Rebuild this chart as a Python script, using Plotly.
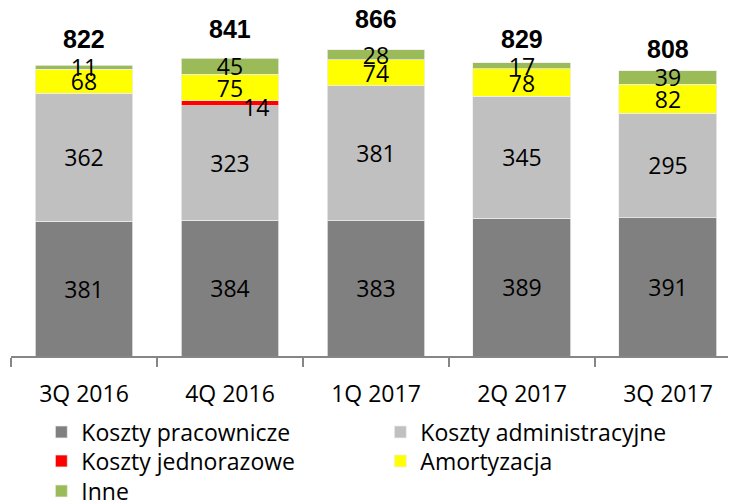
import plotly.graph_objects as go

categories = ["3Q 2016", "4Q 2016", "1Q 2017", "2Q 2017", "3Q 2017"]
koszty_pracownicze = [381, 384, 383, 389, 391]
koszty_administracyjne = [362, 323, 381, 345, 295]
koszty_jednorazowe = [0, 14, 0, 0, 0]
amortyzacja = [68, 75, 74, 78, 82]
inne = [11, 45, 28, 17, 39]
totals = [822, 841, 866, 829, 808]
total_label_offsets = [26, 29, 31, 24, 21]

FONT = "Open Sans"
fig = go.Figure()

def add(name, vals, color, legend, show_text=True):
    fig.add_trace(go.Bar(
        x=categories, y=vals, name=name, legend=legend,
        marker=dict(color=color, line=dict(width=0.75, color="#EEEEEE")),
        text=[str(v) if (v and show_text) else "" for v in vals],
        textposition="inside", insidetextanchor="middle", textangle=0,
        textfont=dict(family=FONT, size=23, color="black"),
        constraintext="none",
    ))

add("Koszty pracownicze", koszty_pracownicze, "#808080", "legend")
add("Koszty administracyjne", koszty_administracyjne, "#C0C0C0", "legend")
add("Koszty jednorazowe", koszty_jednorazowe, "#FF0000", "legend2", show_text=False)
add("Amortyzacja", amortyzacja, "#FFFF00", "legend2")
add("Inne", inne, "#9BBB59", "legend3")

# label for the one-off costs, offset beside the thin red segment
for i, v in enumerate(koszty_jednorazowe):
    if v:
        base = koszty_pracownicze[i] + koszty_administracyjne[i]
        fig.add_annotation(x=categories[i], y=base + v / 2, text=str(v),
                           showarrow=False, xshift=26, yshift=-4,
                           font=dict(family=FONT, size=23, color="black"))

for i, t in enumerate(totals):
    fig.add_annotation(x=categories[i], y=t, text="<b>%d</b>" % t,
                       showarrow=False, yanchor="middle",
                       yshift=total_label_offsets[i],
                       font=dict(family="Liberation Sans", size=25, color="black"))

def legend_row(y):
    return dict(orientation="h", xref="container", yref="container",
                x=0.0453, y=y, xanchor="left", yanchor="top",
                entrywidth=294, traceorder="normal",
                bgcolor="rgba(0,0,0,0)",
                font=dict(family=FONT, size=23, color="black"),
                itemclick=False, itemdoubleclick=False)

fig.update_layout(
    width=736, height=501,
    margin=dict(l=3, r=8, t=2, b=153, autoexpand=False),
    barmode="stack", bargap=0.329,
    plot_bgcolor="white", paper_bgcolor="white",
    uniformtext=dict(mode="show", minsize=23),
    showlegend=True,
    legend=legend_row(0.1966),
    legend2=legend_row(0.1387),
    legend3=legend_row(0.0788),
    xaxis=dict(range=[-0.5, 4.466], showline=True, linecolor="#868686", linewidth=1.5,
               ticks="outside", tickson="boundaries", ticklen=9, tickcolor="#868686",
               tickwidth=1.5, showgrid=False, automargin=False, ticklabelstandoff=17,
               tickfont=dict(family=FONT, size=23, color="black")),
    yaxis=dict(visible=False, range=[0, 978], automargin=False),
)

fig.write_html("out.html")
